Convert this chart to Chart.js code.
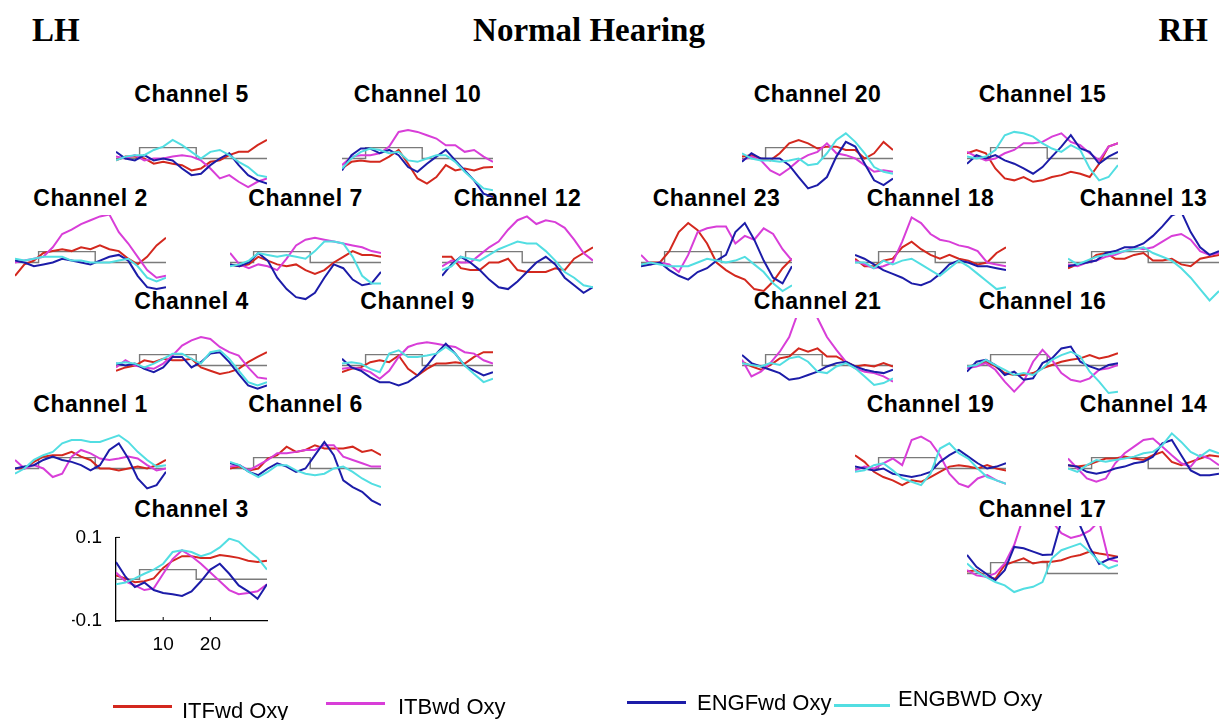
<!DOCTYPE html>
<html>
<head>
<meta charset="utf-8">
<script src="https://cdn.jsdelivr.net/npm/chart.js@4.4.0/dist/chart.umd.min.js"></script>
<style>
  body { margin: 0; background: #fff; }
  #fig { position: relative; width: 1222px; height: 720px; overflow: hidden; font-family: "Liberation Sans", Arial, sans-serif; color: #000; }
  .head { position: absolute; top: 14px; font-family: "Liberation Serif", "Times New Roman", serif; font-weight: bold; font-size: 33px; line-height: 33px; white-space: nowrap; }
  .ttl { position: absolute; font-weight: bold; font-size: 23px; line-height: 23px; letter-spacing: 0.5px; white-space: nowrap; transform: translateX(-50%); }
  canvas { position: absolute; }
  .leg-line { position: absolute; height: 3px; }
  .leg-txt { position: absolute; font-size: 22px; line-height: 22px; white-space: nowrap; }
</style>
</head>
<body>
<div id="fig">
  <div class="head" style="left:32px">LH</div>
  <div class="head" style="left:589px; transform:translateX(-50%)">Normal Hearing</div>
  <div class="head" style="right:14px">RH</div>
</div>
<script>
// time axis (s) and the stimulus block
const seconds = [0, 2, 4, 6, 8, 10, 12, 14, 16, 18, 20, 22, 24, 26, 28, 30, 32];
const boxX = [0, 5, 5, 17, 17, 32];
const boxY = [0, 0, 0.023, 0.023, 0, 0];
const xTicks = [10, 20];
const yTicks = [-0.1, 0.1];
const conditions = ['ITFwd Oxy', 'ITBwd Oxy', 'ENGFwd Oxy', 'ENGBWD Oxy'];

const ch1_itf  = [0, 0, 0.014, 0.025, 0.028, 0.028, 0.035, 0.025, 0.018, 0, 0, -0.004, 0, 0.004, 0, 0.007, 0.018];
const ch1_itb  = [0.018, 0, 0.007, 0, -0.018, -0.011, 0.025, 0.039, 0.032, 0.021, 0.018, 0.021, 0.025, 0.021, 0.007, -0.004, 0];
const ch1_engf = [0, 0.004, 0.007, 0.018, 0.025, 0.018, 0.014, 0.007, -0.004, 0.007, 0.039, 0.053, 0.021, -0.021, -0.042, -0.035, -0.007];
const ch1_engb = [-0.011, 0, 0.018, 0.028, 0.035, 0.053, 0.060, 0.060, 0.056, 0.056, 0.063, 0.070, 0.056, 0.035, 0.018, 0.004, 0.007];

const ch2_itf  = [-0.028, -0.004, 0.004, 0.020, 0.024, 0.028, 0.024, 0.032, 0.028, 0.036, 0.028, 0.024, 0.008, -0.004, 0.012, 0.036, 0.052];
const ch2_itb  = [0, 0.004, 0.008, 0.012, 0.032, 0.060, 0.069, 0.081, 0.089, 0.097, 0.101, 0.064, 0.040, 0.012, -0.016, -0.032, -0.028];
const ch2_engf = [0.004, 0, -0.008, -0.004, 0, 0.008, 0.004, 0, -0.004, 0.004, 0.012, 0.016, 0.004, -0.028, -0.052, -0.056, -0.052];
const ch2_engb = [0.008, 0.004, 0.008, 0.012, 0.012, 0.012, 0.004, 0.004, 0, 0, 0, 0.004, 0.008, -0.008, -0.032, -0.040, -0.032];

const ch3_itf  = [0.009, 0.002, -0.007, -0.005, 0.002, 0.027, 0.044, 0.055, 0.055, 0.051, 0.051, 0.058, 0.055, 0.051, 0.044, 0.041, 0.044];
const ch3_itb  = [0.016, -0.005, -0.015, -0.026, -0.022, 0.013, 0.048, 0.069, 0.055, 0.037, 0.016, -0.005, -0.026, -0.036, -0.033, -0.029, -0.012];
const ch3_engf = [0.041, 0.006, -0.019, -0.008, -0.026, -0.033, -0.036, -0.040, -0.029, -0.005, 0.023, 0.037, 0.013, -0.015, -0.029, -0.047, -0.012];
const ch3_engb = [-0.012, -0.008, 0.002, 0.013, 0.023, 0.037, 0.065, 0.069, 0.065, 0.055, 0.062, 0.076, 0.097, 0.090, 0.069, 0.051, 0.023];

const ch4_itf  = [-0.011, -0.004, 0, 0.011, 0.007, 0.014, 0.011, 0.011, 0.014, -0.004, -0.011, -0.018, -0.014, -0.007, 0.007, 0.018, 0.028];
const ch4_itb  = [-0.004, 0.011, 0, -0.004, -0.007, 0.004, 0.021, 0.042, 0.053, 0.060, 0.056, 0.039, 0.028, 0.021, -0.004, -0.025, -0.028];
const ch4_engf = [0.004, 0, 0.004, -0.007, -0.014, -0.004, 0.018, 0.018, -0.004, 0.007, 0.025, 0.028, 0.007, -0.018, -0.042, -0.049, -0.042];
const ch4_engb = [0.004, 0.007, 0.004, -0.004, 0.004, 0.014, 0.025, 0.025, 0.014, 0.004, 0.028, 0.032, 0.014, -0.011, -0.035, -0.042, -0.035];

const ch5_itf  = [-0.004, 0.004, 0.004, 0, -0.011, -0.007, -0.011, -0.014, -0.025, -0.021, -0.007, -0.004, 0.007, 0.014, 0.014, 0.028, 0.039];
const ch5_itb  = [0.004, 0, 0.007, -0.004, 0, 0, 0.004, 0.007, 0.004, -0.004, -0.021, -0.042, -0.035, -0.049, -0.060, -0.049, -0.042];
const ch5_engf = [0.014, 0, -0.004, 0.007, -0.004, 0, -0.004, -0.021, -0.035, -0.032, -0.014, 0, 0.011, -0.014, -0.035, -0.046, -0.053];
const ch5_engb = [-0.004, 0.004, 0.007, 0.007, 0.018, 0.025, 0.039, 0.028, 0.014, 0, 0.014, 0.018, 0.007, -0.007, -0.018, -0.035, -0.039];

const ch6_itf  = [0, 0.004, -0.004, 0, 0.021, 0.028, 0.046, 0.035, 0.039, 0.049, 0.042, 0.042, 0.042, 0.046, 0.035, 0.039, 0.028];
const ch6_itb  = [0.004, 0.007, -0.004, 0.007, 0.018, 0.032, 0.032, 0.035, 0.039, 0.039, 0.049, 0.049, 0.025, 0.018, 0.011, 0.004, 0.004];
const ch6_engf = [0.011, 0.007, -0.007, -0.014, 0, 0.011, 0.004, -0.007, 0, 0.028, 0.056, 0.028, -0.025, -0.039, -0.049, -0.067, -0.077];
const ch6_engb = [0.014, 0.007, -0.007, -0.018, -0.007, 0.007, 0.007, -0.004, -0.011, -0.014, -0.011, 0, 0.004, -0.007, -0.021, -0.032, -0.039];

const ch7_itf  = [-0.004, -0.008, -0.004, 0.012, 0.004, -0.004, -0.008, -0.004, -0.016, -0.024, -0.016, 0, 0.012, 0.024, 0.016, 0.016, 0.012];
const ch7_itb  = [0.020, -0.004, -0.012, -0.004, -0.008, -0.016, 0.008, 0.036, 0.048, 0.052, 0.048, 0.044, 0.040, 0.036, 0.032, 0.024, 0.020];
const ch7_engf = [-0.004, -0.008, 0, 0.020, 0.004, -0.032, -0.056, -0.073, -0.077, -0.064, -0.032, -0.004, -0.012, -0.036, -0.048, -0.044, -0.020];
const ch7_engb = [-0.008, -0.004, 0.004, 0.020, 0.016, 0.012, 0.016, 0.012, 0.008, 0.024, 0.044, 0.044, 0.040, 0.012, -0.028, -0.044, -0.044];

const ch9_itf  = [-0.014, -0.007, -0.004, 0.007, 0.011, 0.007, 0.021, -0.007, -0.021, -0.007, 0.004, 0.004, 0.007, 0.004, 0.018, 0.028, 0.028];
const ch9_itb  = [-0.007, -0.004, -0.007, -0.014, -0.028, -0.011, 0.018, 0.039, 0.046, 0.049, 0.046, 0.042, 0.039, 0.028, 0.025, 0.011, 0.004];
const ch9_engf = [0.014, -0.004, -0.011, -0.025, -0.035, -0.035, -0.042, -0.035, -0.021, 0, 0.025, 0.046, 0.025, 0, -0.011, -0.021, -0.014];
const ch9_engb = [0.004, 0.007, 0.004, -0.007, -0.014, 0.025, 0.032, 0.018, 0.018, 0.021, 0.025, 0.039, 0.025, 0, -0.018, -0.035, -0.028];

const ch10_itf  = [-0.021, -0.007, -0.004, -0.007, -0.007, 0.004, 0.018, -0.011, -0.042, -0.053, -0.039, -0.014, -0.025, -0.021, -0.025, -0.019, -0.018];
const ch10_itb  = [-0.014, 0.004, 0.007, 0.007, 0.011, 0.025, 0.056, 0.060, 0.056, 0.049, 0.042, 0.028, 0.028, 0.014, 0.018, 0.004, -0.007];
const ch10_engf = [-0.025, 0.007, 0.021, 0.021, 0.011, 0.018, 0.007, -0.018, -0.028, -0.011, 0.004, 0.018, -0.004, -0.025, -0.046, -0.074, -0.081];
const ch10_engb = [-0.021, 0, 0.014, 0.021, 0.018, 0.011, 0.014, -0.004, -0.007, 0, 0.007, 0.007, -0.007, -0.028, -0.046, -0.063, -0.067];

const ch12_itf  = [0.012, 0.012, -0.012, -0.016, -0.016, 0, 0, 0.008, -0.016, -0.020, -0.020, -0.020, -0.012, -0.016, 0.008, 0.020, 0.032];
const ch12_itb  = [-0.008, 0.004, 0, 0, 0.016, 0.032, 0.044, 0.069, 0.089, 0.097, 0.081, 0.089, 0.085, 0.073, 0.048, 0.020, 0.004];
const ch12_engf = [-0.028, -0.004, 0.012, 0, -0.016, -0.036, -0.052, -0.056, -0.040, -0.020, 0, 0.012, -0.004, -0.032, -0.048, -0.064, -0.052];
const ch12_engb = [-0.016, -0.008, 0.012, 0.008, 0.004, 0.016, 0.028, 0.036, 0.044, 0.040, 0.040, 0.024, 0.004, -0.020, -0.032, -0.048, -0.052];

const ch13_itf  = [-0.012, -0.004, 0, 0.016, 0.020, 0.008, 0.008, 0.016, 0.020, 0.004, 0.004, 0.008, -0.004, -0.008, 0.008, 0.012, 0.016];
const ch13_itb  = [-0.004, -0.008, 0, 0.004, 0.012, 0.016, 0.024, 0.032, 0.028, 0.032, 0.044, 0.056, 0.060, 0.048, 0.024, 0.016, 0.020];
const ch13_engf = [-0.008, -0.004, 0, 0.004, 0.020, 0.024, 0.032, 0.032, 0.040, 0.056, 0.076, 0.099, 0.107, 0.064, 0.032, 0.016, 0.024];
const ch13_engb = [0.008, -0.004, 0.004, 0.012, 0.016, 0.020, 0.024, 0.028, 0.032, 0.020, 0.012, 0.004, -0.012, -0.032, -0.056, -0.080, -0.060];

const ch14_itf  = [0.007, 0.004, 0.007, 0.014, 0.021, 0.021, 0.025, 0.021, 0.018, 0.028, 0.035, 0.014, 0.007, 0.014, 0.021, 0.028, 0.025];
const ch14_itb  = [0.021, 0, -0.021, -0.028, -0.021, 0.011, 0.032, 0.046, 0.060, 0.063, 0.046, 0.028, 0.011, 0.004, 0.028, 0.021, 0.007];
const ch14_engf = [0.007, 0.004, -0.007, -0.011, -0.007, 0, 0.004, 0.011, 0.014, 0.025, 0.053, 0.060, 0.028, -0.004, -0.014, -0.014, -0.011];
const ch14_engb = [0, -0.007, 0.007, 0.018, 0.014, 0.018, 0.021, 0.025, 0.032, 0.035, 0.049, 0.074, 0.056, 0.035, 0.025, 0.039, 0.032];

const ch15_itf  = [0.011, 0.018, 0.011, -0.021, -0.042, -0.046, -0.039, -0.049, -0.046, -0.039, -0.035, -0.028, -0.032, -0.039, -0.011, 0.025, 0.032];
const ch15_itb  = [0.014, 0.004, -0.004, 0, 0.011, 0.018, 0.032, 0.032, 0.035, 0.046, 0.053, 0.035, 0.028, 0.011, -0.004, 0.025, 0.032];
const ch15_engf = [-0.011, 0.007, 0, 0.007, -0.004, -0.011, -0.021, -0.032, -0.018, 0.004, 0.025, 0.049, 0.021, 0.014, -0.011, 0.004, 0.014];
const ch15_engb = [0.004, 0, 0.004, 0.018, 0.049, 0.056, 0.053, 0.046, 0.032, 0.021, 0.014, 0.028, 0.018, -0.021, -0.046, -0.039, -0.014];

const ch16_itf  = [-0.002, 0.001, 0.008, -0.002, -0.016, -0.020, -0.020, -0.016, -0.006, 0.001, 0.008, 0.012, 0.015, 0.022, 0.015, 0.019, 0.026];
const ch16_itb  = [-0.006, -0.002, 0.005, -0.009, -0.034, -0.055, -0.034, 0.008, 0.033, 0.012, -0.016, -0.030, -0.034, -0.027, -0.009, -0.006, 0.001];
const ch16_engf = [-0.013, 0.008, 0.012, 0.001, -0.020, -0.013, -0.030, -0.027, 0.005, 0.015, 0.036, 0.040, 0.008, -0.002, -0.009, 0.001, 0.005];
const ch16_engb = [-0.002, 0.001, 0.012, 0.001, -0.009, -0.020, -0.016, -0.020, -0.006, 0.012, 0.022, 0.029, 0.019, -0.013, -0.034, -0.058, -0.055];

const ch17_itf  = [0.004, 0.007, -0.007, -0.011, 0.018, 0.025, 0.032, 0.021, 0.025, 0.025, 0.028, 0.035, 0.039, 0.046, 0.042, 0.039, 0.035];
const ch17_itb  = [0.007, -0.004, -0.007, 0, 0.021, 0.060, 0.120, 0.140, 0.140, 0.110, 0.085, 0.075, 0.080, 0.090, 0.110, 0.030, 0.025];
const ch17_engf = [0.039, 0.014, 0, -0.014, 0.007, 0.056, 0.053, 0.046, 0.039, 0.040, 0.110, 0.130, 0.100, 0.055, 0.020, 0.030, 0.035];
const ch17_engb = [0.021, 0.004, -0.007, -0.018, -0.025, -0.039, -0.032, -0.028, -0.018, 0.032, 0.049, 0.056, 0.063, 0.046, 0.025, 0.011, 0.018];

const ch18_itf  = [0.008, -0.008, -0.008, 0.004, 0.008, 0.032, 0.044, 0.028, 0.016, 0.008, 0.016, 0.008, 0.004, -0.004, 0, 0.020, 0.032];
const ch18_itb  = [0.004, -0.004, -0.012, -0.008, 0, 0.044, 0.095, 0.083, 0.060, 0.048, 0.044, 0.036, 0.032, 0.024, 0, -0.004, -0.008];
const ch18_engf = [0.016, 0.008, -0.004, -0.016, -0.024, -0.032, -0.044, -0.048, -0.040, -0.024, -0.004, 0.004, 0, -0.008, -0.008, -0.012, -0.016];
const ch18_engb = [0, 0, -0.012, 0.004, -0.004, 0.004, 0.008, -0.004, -0.016, -0.028, -0.012, 0.004, -0.008, -0.024, -0.040, -0.056, -0.052];

const ch19_itf  = [0.028, 0.014, -0.007, -0.018, -0.025, -0.035, -0.025, -0.028, -0.018, -0.007, 0.004, 0.007, 0.004, 0, 0.007, 0, -0.004];
const ch19_itb  = [-0.004, 0.004, 0, 0.011, 0.021, 0.007, 0.060, 0.067, 0.056, 0.028, -0.011, -0.032, -0.039, -0.021, -0.014, -0.025, -0.032];
const ch19_engf = [0.004, 0, -0.004, 0, -0.011, -0.014, -0.018, -0.014, -0.007, 0.014, 0.028, 0.039, 0.025, 0.011, 0, 0.004, 0.011];
const ch19_engb = [-0.007, -0.004, 0.007, 0.011, -0.004, -0.021, -0.028, -0.035, -0.011, 0.042, 0.053, 0.032, 0.021, 0, -0.018, -0.025, -0.032];

const ch20_itf  = [0.004, 0.007, 0, -0.004, 0.011, 0.032, 0.039, 0.032, 0.021, 0.025, 0.025, 0.018, 0.018, 0, 0.011, 0.035, 0.018];
const ch20_itb  = [-0.004, 0.004, -0.004, -0.025, -0.035, -0.021, -0.004, 0.007, 0.014, 0.032, 0.011, 0.007, 0, -0.014, -0.028, -0.025, -0.028];
const ch20_engf = [-0.007, 0.011, 0, 0, 0, -0.014, -0.039, -0.063, -0.056, -0.039, 0.004, 0.035, 0.025, -0.011, -0.046, -0.056, -0.042];
const ch20_engb = [0.011, 0, -0.004, -0.004, -0.007, -0.004, 0, -0.014, -0.011, 0.011, 0.039, 0.053, 0.035, 0.011, -0.018, -0.028, -0.032];

const ch21_itf  = [0.008, -0.002, -0.009, 0.001, 0.015, 0.019, 0.036, 0.029, 0.036, 0.019, 0.019, 0.008, -0.002, 0.001, -0.002, 0.005, -0.002];
const ch21_itb  = [0.012, -0.023, -0.013, 0.005, 0.029, 0.060, 0.115, 0.140, 0.100, 0.060, 0.033, 0.008, -0.006, -0.013, -0.016, -0.023, -0.034];
const ch21_engf = [0.022, 0.005, -0.002, -0.009, -0.016, -0.030, -0.027, -0.020, -0.013, -0.002, 0.005, 0.008, -0.002, -0.009, -0.013, -0.016, -0.009];
const ch21_engb = [0.005, 0.001, -0.002, 0.005, 0.001, 0.015, 0.019, 0.008, -0.013, -0.016, -0.002, 0.005, -0.006, -0.023, -0.041, -0.037, -0.027];

const ch23_itf  = [-0.004, 0, 0, 0.024, 0.064, 0.083, 0.068, 0.040, 0, -0.016, -0.028, -0.036, -0.056, -0.060, -0.040, -0.012, 0.008];
const ch23_itb  = [0.016, -0.004, 0, -0.004, -0.020, 0.016, 0.064, 0.072, 0.076, 0.076, 0.040, 0.056, 0.048, 0.072, 0.060, 0.028, 0.004];
const ch23_engf = [-0.008, -0.004, 0, -0.016, -0.028, -0.036, -0.020, -0.012, 0.004, 0.016, 0.064, 0.083, 0.048, 0.004, -0.032, -0.044, -0.008];
const ch23_engb = [-0.004, 0, -0.004, -0.008, -0.008, -0.008, 0, 0.008, 0.004, 0, 0.004, 0.012, -0.004, -0.020, -0.044, -0.060, -0.048];

const channelData = {
  1: [ch1_itf, ch1_itb, ch1_engf, ch1_engb],
  2: [ch2_itf, ch2_itb, ch2_engf, ch2_engb],
  3: [ch3_itf, ch3_itb, ch3_engf, ch3_engb],
  4: [ch4_itf, ch4_itb, ch4_engf, ch4_engb],
  5: [ch5_itf, ch5_itb, ch5_engf, ch5_engb],
  6: [ch6_itf, ch6_itb, ch6_engf, ch6_engb],
  7: [ch7_itf, ch7_itb, ch7_engf, ch7_engb],
  9: [ch9_itf, ch9_itb, ch9_engf, ch9_engb],
  10: [ch10_itf, ch10_itb, ch10_engf, ch10_engb],
  12: [ch12_itf, ch12_itb, ch12_engf, ch12_engb],
  13: [ch13_itf, ch13_itb, ch13_engf, ch13_engb],
  14: [ch14_itf, ch14_itb, ch14_engf, ch14_engb],
  15: [ch15_itf, ch15_itb, ch15_engf, ch15_engb],
  16: [ch16_itf, ch16_itb, ch16_engf, ch16_engb],
  17: [ch17_itf, ch17_itb, ch17_engf, ch17_engb],
  18: [ch18_itf, ch18_itb, ch18_engf, ch18_engb],
  19: [ch19_itf, ch19_itb, ch19_engf, ch19_engb],
  20: [ch20_itf, ch20_itb, ch20_engf, ch20_engb],
  21: [ch21_itf, ch21_itb, ch21_engf, ch21_engb],
  23: [ch23_itf, ch23_itb, ch23_engf, ch23_engb]
};

const colors = ['#d3281e', '#d83ed8', '#1c1ca8', '#52dee2'];

// [channel, left px of t=0, px of y=0]
const panels = [
  [5, 116, 158], [10, 342, 158], [20, 742, 158], [15, 967, 158],
  [2, 15, 262], [7, 230, 262], [12, 442, 262], [23, 641, 262], [18, 855, 262], [13, 1068, 262],
  [4, 116, 365], [9, 342, 365], [21, 742, 365], [16, 967, 365],
  [1, 15, 468], [6, 230, 468], [19, 855, 468], [14, 1068, 468],
  [3, 116, 573], [17, 967, 573]
];

// legend: [left of line, line top, line width, text left, text top]
const legendPos = [[113, 705, 59, 182, 700], [326, 702, 59, 398, 696], [627, 701, 59, 697, 692], [834, 704, 56, 898, 688]];

const fig = document.getElementById('fig');
const PW = 151, PH = 95;

panels.forEach(([ch, x0, base]) => {
  const t = document.createElement('div');
  t.className = 'ttl';
  t.textContent = 'Channel ' + ch;
  t.style.left = (x0 + PW / 2) + 'px';
  t.style.top = (base - 56 - 19.5) + 'px';
  fig.appendChild(t);
});

const innerTicks = {
  id: 'innerTicks',
  afterDraw(chart) {
    const { ctx, chartArea: a, scales: { x, y } } = chart;
    ctx.save();
    ctx.strokeStyle = '#000';
    ctx.lineWidth = 1;
    xTicks.forEach(v => {
      const px = x.getPixelForValue(v);
      ctx.beginPath(); ctx.moveTo(px, a.bottom); ctx.lineTo(px, a.bottom - 4); ctx.stroke();
    });
    yTicks.forEach(v => {
      const py = y.getPixelForValue(v);
      ctx.beginPath(); ctx.moveTo(a.left, py); ctx.lineTo(a.left + 4, py); ctx.stroke();
    });
    ctx.restore();
  }
};

panels.forEach(([ch, x0, base]) => {
  const axes = ch === 3;
  const padL = axes ? 44 : 0, padT = axes ? 14 : 0, padB = axes ? 40 : 0, padR = axes ? 8 : 0;
  const cv = document.createElement('canvas');
  cv.width = PW + padL + padR;
  cv.height = PH + padT + padB;
  cv.style.left = (x0 - padL) + 'px';
  cv.style.top = Math.round(base - PH / 2 - padT) + 'px';
  fig.appendChild(cv);

  const datasets = channelData[ch].map((vals, i) => ({
    label: conditions[i],
    data: seconds.map((s, k) => ({ x: s, y: vals[k] })),
    borderColor: colors[i],
    borderWidth: 2,
    pointRadius: 0,
    order: 4 - i
  }));
  datasets.push({
    label: 'block',
    data: boxX.map((x, k) => ({ x: x, y: boxY[k] })),
    borderColor: '#7a7a7a',
    borderWidth: 1.4,
    pointRadius: 0,
    order: 10
  });

  const xScale = {
    type: 'linear', min: 0, max: 32, display: axes,
    grid: { display: false, drawTicks: false },
    border: { display: true, color: '#000', width: 1.3 },
    ticks: { color: '#000', font: { size: 19, family: 'Liberation Sans' }, padding: 12, maxRotation: 0 }
  };
  const yScale = {
    min: -0.1, max: 0.1, display: axes,
    grid: { display: false, drawTicks: false },
    border: { display: true, color: '#000', width: 1.3 },
    ticks: { color: '#000', font: { size: 19, family: 'Liberation Sans' }, padding: 14 }
  };
  if (axes) {
    xScale.afterFit = s => { s.height = padB; };
    xScale.afterBuildTicks = s => { s.ticks = xTicks.map(v => ({ value: v })); };
    yScale.afterFit = s => { s.width = padL; };
    yScale.afterBuildTicks = s => { s.ticks = yTicks.map(v => ({ value: v })); };
  }

  new Chart(cv, {
    type: 'line',
    data: { datasets },
    options: {
      responsive: false,
      animation: false,
      events: [],
      devicePixelRatio: 1,
      layout: { padding: { top: padT, right: padR, left: 0, bottom: 0 } },
      plugins: { legend: { display: false }, tooltip: { enabled: false } },
      elements: { line: { tension: 0 } },
      scales: { x: xScale, y: yScale }
    },
    plugins: axes ? [innerTicks] : []
  });
});

conditions.forEach((name, i) => {
  const [lx, ly, lw, tx, ty] = legendPos[i];
  const ln = document.createElement('div');
  ln.className = 'leg-line';
  ln.style.left = lx + 'px'; ln.style.top = ly + 'px'; ln.style.width = lw + 'px';
  ln.style.background = colors[i];
  fig.appendChild(ln);
  const txt = document.createElement('div');
  txt.className = 'leg-txt';
  txt.textContent = name;
  txt.style.left = tx + 'px'; txt.style.top = ty + 'px';
  fig.appendChild(txt);
});
</script>
</body>
</html>
